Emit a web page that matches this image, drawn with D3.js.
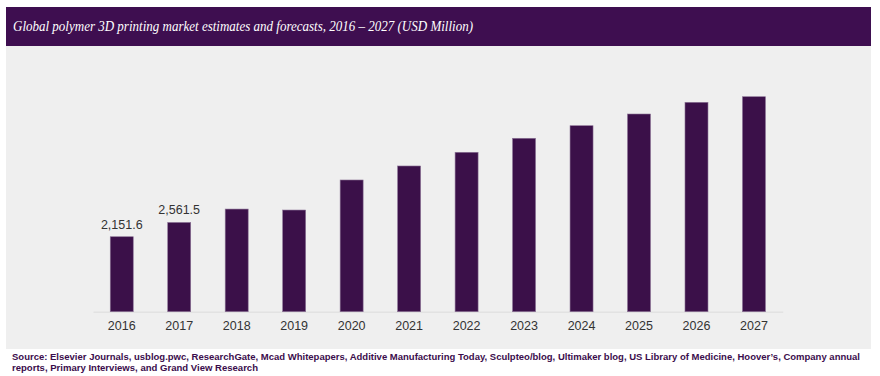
<!DOCTYPE html>
<html lang="en">
<head>
    <meta charset="UTF-8">
    <script src="https://cdn.jsdelivr.net/npm/d3@7"></script>
    <title>polymer 3D printing market</title>
    <style>
        body { margin: 0; background: #fff; }
    </style>
</head>
<body>
<svg width="880" height="376"></svg>
<script>
    // data (USD Million)
    const years = ["2016", "2017", "2018", "2019", "2020", "2021", "2022", "2023", "2024", "2025", "2026", "2027"];
    const values = [2151.6, 2561.5, 2946, 2918, 3780, 4182, 4575, 4977, 5338, 5674, 6009, 6170];
    const shownLabels = ["2,151.6", "2,561.5", "", "", "", "", "", "", "", "", "", ""];

    const titleText = "Global polymer 3D printing market estimates and forecasts, 2016 \u2013 2027 (USD Million)";
    const sourceLines = [
        "Source: Elsevier Journals, usblog.pwc, ResearchGate, Mcad Whitepapers, Additive Manufacturing Today, Sculpteo/blog, Ultimaker blog, US Library of Medicine,  Hoover\u2019s, Company annual",
        "reports, Primary Interviews, and Grand View Research"
    ];

    const purple = "#3b1049";
    const svg = d3.select("svg");

    // title bar + grey panel
    svg.append("rect").attr("x", 6).attr("y", 7).attr("width", 865).attr("height", 39)
        .attr("fill", "#3e0e50");
    svg.append("rect").attr("x", 6).attr("y", 46).attr("width", 865).attr("height", 303)
        .attr("fill", "#efefef");
    svg.append("text")
        .attr("x", 13).attr("y", 31)
        .attr("fill", "#fff")
        .attr("font-family", "'Liberation Serif', 'DejaVu Serif', serif")
        .attr("font-style", "italic")
        .attr("font-size", 15)
        .attr("textLength", 460)
        .attr("lengthAdjust", "spacingAndGlyphs")
        .text(titleText);

    const x = d3.scaleBand()
        .domain(years)
        .range([93, 782.7])
        .paddingInner(0.6)
        .paddingOuter(0.3);

    const y = d3.scaleLinear()
        .domain([0, 6500])
        .range([311.7, 311.7 - 6500 / 28.7]);

    // baseline
    const xAxis = svg.append("g").attr("transform", `translate(0, ${y(0)})`)
        .call(d3.axisBottom(x).tickSize(0).tickPadding(9));
    xAxis.select(".domain").attr("stroke", "#e2e2e2").attr("stroke-width", 1.5);
    xAxis.selectAll("text")
        .attr("font-family", "'Liberation Sans', Arial, sans-serif")
        .attr("font-size", 12.5)
        .attr("fill", "#333");

    svg.append("g").selectAll("rect")
        .data(values)
        .join("rect")
        .attr("x", (d, i) => x(years[i]))
        .attr("y", d => y(d))
        .attr("width", x.bandwidth())
        .attr("height", d => y(0) - y(d))
        .attr("fill", purple)
        .attr("stroke", "#8c7396")
        .attr("stroke-width", 0.6);

    svg.append("g").selectAll("text")
        .data(values)
        .join("text")
        .attr("x", (d, i) => x(years[i]) + x.bandwidth() / 2)
        .attr("y", d => y(d) - 8)
        .attr("text-anchor", "middle")
        .attr("font-family", "'Liberation Sans', Arial, sans-serif")
        .attr("font-size", 12.5)
        .attr("fill", "#333")
        .text((d, i) => shownLabels[i]);

    // source note
    svg.append("g").selectAll("text")
        .data(sourceLines)
        .join("text")
        .attr("x", 12)
        .attr("y", (d, i) => 360 + i * 10.5)
        .attr("fill", "#3b0d4c")
        .attr("font-family", "'Liberation Sans', Arial, sans-serif")
        .attr("font-weight", "bold")
        .attr("font-size", 9.6)
        .attr("textLength", (d, i) => i === 0 ? 848 : 246)
        .attr("lengthAdjust", "spacingAndGlyphs")
        .text(d => d);
</script>
</body>
</html>
